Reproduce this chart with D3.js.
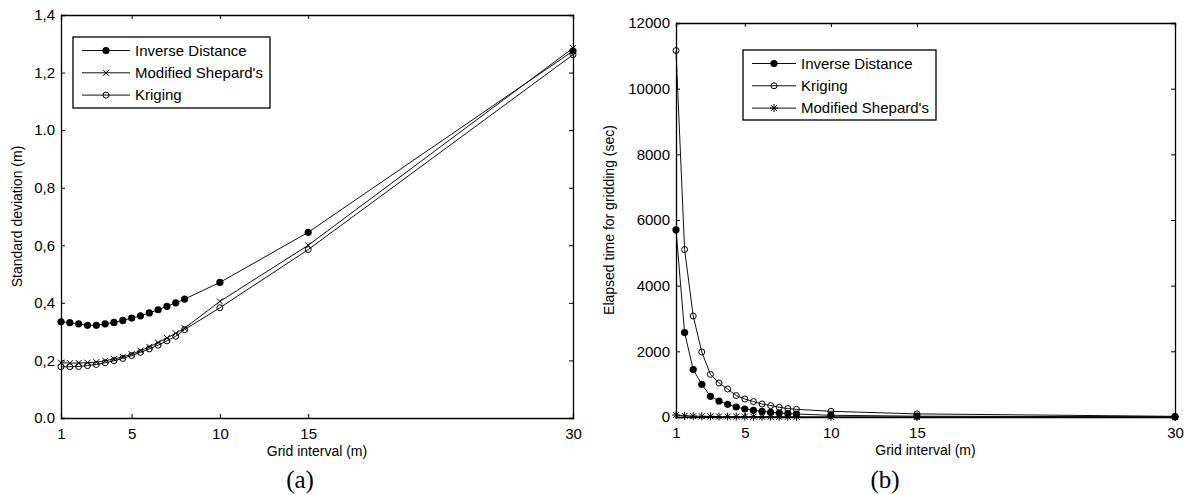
<!DOCTYPE html>
<html>
<head>
<meta charset="utf-8">
<script src="https://cdn.jsdelivr.net/npm/d3@7"></script>
<style>
  body { margin: 0; background: #fff; }
  svg { display: block; }
  text { font-family: "Liberation Sans", Arial, sans-serif; fill: #000; }
  .caption { font-family: "Liberation Serif", "Times New Roman", serif; }
</style>
</head>
<body>
<div id="chart"></div>
<script>
// grid intervals (m), shared by both panels
var gridInterval = [1, 1.5, 2, 2.5, 3, 3.5, 4, 4.5, 5, 5.5, 6, 6.5, 7, 7.5, 8, 10, 15, 30];
var xTicks = [1, 5, 10, 15, 30];

// (a) standard deviation (m)
var stdInverse  = [0.334, 0.331, 0.327, 0.322, 0.322, 0.327, 0.332, 0.339, 0.347, 0.355, 0.365, 0.376, 0.388, 0.400, 0.413, 0.471, 0.645, 1.275];
var stdShepard  = [0.192, 0.191, 0.191, 0.192, 0.194, 0.199, 0.205, 0.212, 0.222, 0.234, 0.247, 0.262, 0.278, 0.294, 0.312, 0.405, 0.600, 1.285];
var stdKriging  = [0.178, 0.178, 0.179, 0.182, 0.186, 0.192, 0.199, 0.207, 0.217, 0.228, 0.240, 0.253, 0.268, 0.284, 0.307, 0.383, 0.585, 1.262];
var stdTicks = [0, 0.2, 0.4, 0.6, 0.8, 1.0, 1.2, 1.4];
var stdTickLabels = ["0.0", "0,2", "0,4", "0,6", "0,8", "1.0", "1,2", "1,4"];

// (b) elapsed time for gridding (sec)
var timeInverse = [5700, 2570, 1443, 996, 630, 487, 387, 305, 244, 204, 174, 143, 122, 103, 91, 52, 25, 5];
var timeKriging = [11160, 5100, 3076, 1980, 1300, 1036, 853, 652, 548, 469, 396, 347, 295, 256, 234, 174, 95, 20];
var timeShepard = [60, 35, 25, 20, 18, 15, 13, 12, 10, 9, 8, 7, 7, 6, 6, 5, 3, 2];
var timeTicks = [0, 2000, 4000, 6000, 8000, 10000, 12000];

var svg = d3.select("#chart").append("svg")
    .attr("width", 1189)
    .attr("height", 495);

// marker drawers
function markDot(g, x, y) {
  g.append("circle").attr("cx", x).attr("cy", y).attr("r", 3.6).attr("fill", "#000");
}
function markCircle(g, x, y) {
  g.append("circle").attr("cx", x).attr("cy", y).attr("r", 3)
    .attr("fill", "none").attr("stroke", "#000").attr("stroke-width", 1);
}
function markCross(g, x, y) {
  var s = 3;
  g.append("path").attr("d", "M" + (x - s) + "," + (y - s) + "L" + (x + s) + "," + (y + s) +
      "M" + (x - s) + "," + (y + s) + "L" + (x + s) + "," + (y - s))
    .attr("stroke", "#000").attr("stroke-width", 1);
}
function markStar(g, x, y) {
  var s = 4, d = 3;
  g.append("path").attr("d", "M" + x + "," + (y - s) + "L" + x + "," + (y + s) +
      "M" + (x - s) + "," + y + "L" + (x + s) + "," + y +
      "M" + (x - d) + "," + (y - d) + "L" + (x + d) + "," + (y + d) +
      "M" + (x - d) + "," + (y + d) + "L" + (x + d) + "," + (y - d))
    .attr("stroke", "#000").attr("stroke-width", 1);
}

function panel(opt) {
  var x = d3.scaleLinear().domain([1, 30]).range([opt.left, opt.right]);
  var y = d3.scaleLinear().domain(opt.yDomain).range([opt.bottom, opt.top]);
  var g = svg.append("g");

  // series
  var line = d3.line()
      .x(function(d, i) { return x(gridInterval[i]); })
      .y(function(d) { return y(d); });
  opt.series.forEach(function(s) {
    g.append("path").datum(s.values)
      .attr("d", line)
      .attr("fill", "none")
      .attr("stroke", "#111")
      .attr("stroke-width", 1);
    s.values.forEach(function(v, i) { s.mark(g, x(gridInterval[i]), y(v)); });
  });

  // axes, ticks inward like the original
  var tl = 4;
  g.append("g").attr("transform", "translate(0," + opt.bottom + ")")
    .call(d3.axisBottom(x).tickValues(xTicks).tickSize(-tl).tickPadding(10).tickFormat(d3.format("d")));
  g.append("g").attr("transform", "translate(0," + opt.top + ")")
    .call(d3.axisTop(x).tickValues(xTicks).tickSize(-tl).tickFormat(""));
  g.append("g").attr("transform", "translate(" + opt.left + ",0)")
    .call(d3.axisLeft(y).tickValues(opt.yTicks).tickSize(-tl).tickPadding(6).tickFormat(opt.yFormat));
  g.append("g").attr("transform", "translate(" + opt.right + ",0)")
    .call(d3.axisRight(y).tickValues(opt.yTicks).tickSize(-tl).tickFormat(""));
  g.selectAll(".domain").attr("stroke", "#000").attr("stroke-width", 1.3);
  g.selectAll(".tick line").attr("stroke", "#000");
  g.selectAll(".tick text").style("font-size", "15px").attr("fill", "#000")
    .style("font-family", "'Liberation Sans', Arial, sans-serif");

  // axis titles
  g.append("text")
    .attr("x", (opt.left + opt.right) / 2)
    .attr("y", opt.bottom + 38)
    .attr("text-anchor", "middle")
    .style("font-size", "14px")
    .text("Grid interval (m)");
  g.append("text")
    .attr("transform", "translate(" + opt.yLabelX + "," + ((opt.top + opt.bottom) / 2) + ") rotate(-90)")
    .attr("text-anchor", "middle")
    .style("font-size", "14px")
    .text(opt.yLabel);

  // caption
  g.append("text").attr("class", "caption")
    .attr("x", opt.captionX).attr("y", 488)
    .attr("text-anchor", "middle")
    .style("font-size", "25px")
    .text(opt.caption);

  // legend
  var L = opt.legend;
  g.append("rect")
    .attr("x", L.x).attr("y", L.y).attr("width", L.w).attr("height", L.h)
    .attr("fill", "#fff").attr("stroke", "#000").attr("stroke-width", 1.3);
  opt.series.forEach(function(s, i) {
    var yy = L.y + 13.5 + i * 22.3;
    g.append("line")
      .attr("x1", L.x + 9).attr("x2", L.x + 9 + L.lineLen)
      .attr("y1", yy).attr("y2", yy)
      .attr("stroke", "#111").attr("stroke-width", 1);
    s.mark(g, L.x + 9 + L.lineLen / 2, yy);
    g.append("text")
      .attr("x", L.x + 9 + L.lineLen + 5)
      .attr("y", yy + 5)
      .style("font-size", "15px")
      .text(s.name);
  });
}

panel({
  left: 61, right: 573, top: 15, bottom: 418,
  yDomain: [0, 1.4], yTicks: stdTicks,
  yFormat: function(d, i) { return stdTickLabels[i]; },
  yLabel: "Standard deviation (m)", yLabelX: 22,
  caption: "(a)", captionX: 300,
  legend: { x: 73, y: 37, w: 197, h: 71, lineLen: 48 },
  series: [
    { name: "Inverse Distance", values: stdInverse, mark: markDot },
    { name: "Modified Shepard's", values: stdShepard, mark: markCross },
    { name: "Kriging", values: stdKriging, mark: markCircle }
  ]
});

panel({
  left: 676, right: 1175, top: 23, bottom: 417,
  yDomain: [0, 12000], yTicks: timeTicks,
  yFormat: d3.format("d"),
  yLabel: "Elapsed time for gridding (sec)", yLabelX: 614,
  caption: "(b)", captionX: 885,
  legend: { x: 743, y: 50, w: 193, h: 70, lineLen: 44 },
  series: [
    { name: "Inverse Distance", values: timeInverse, mark: markDot },
    { name: "Kriging", values: timeKriging, mark: markCircle },
    { name: "Modified Shepard's", values: timeShepard, mark: markStar }
  ]
});
</script>
</body>
</html>
